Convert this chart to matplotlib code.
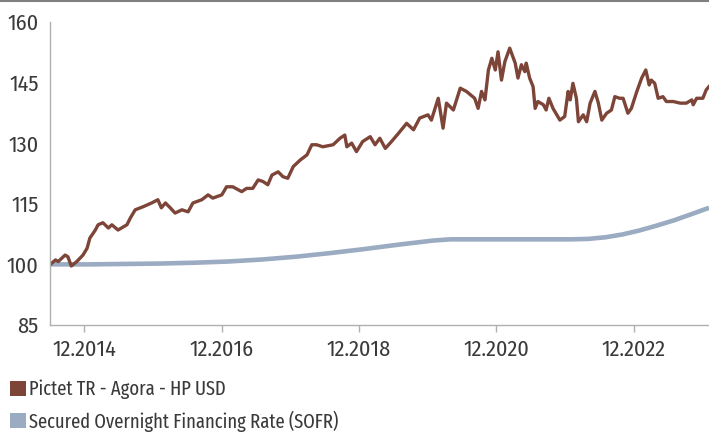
import matplotlib.pyplot as plt
from matplotlib.patches import Patch
from matplotlib.lines import Line2D

plt.rcParams['font.family'] = ['Fira Sans Condensed', 'DejaVu Sans']

# Pictet TR - Agora - HP USD (decimal years, index value)
pictet_t = [2014.42, 2014.50, 2014.54, 2014.64, 2014.68, 2014.73, 2014.81, 2014.90, 2014.96, 2015.00,
            2015.08, 2015.12, 2015.19, 2015.27, 2015.32, 2015.41, 2015.54, 2015.59, 2015.66, 2015.78,
            2015.90, 2015.99, 2016.04, 2016.10, 2016.17, 2016.24, 2016.34, 2016.43, 2016.50, 2016.63,
            2016.72, 2016.79, 2016.92, 2016.99, 2017.08, 2017.21, 2017.28, 2017.37, 2017.45, 2017.52,
            2017.59, 2017.65, 2017.74, 2017.81, 2017.88, 2017.96, 2018.06, 2018.16, 2018.23, 2018.30,
            2018.39, 2018.54, 2018.64, 2018.71, 2018.74, 2018.81, 2018.88, 2018.97, 2019.08, 2019.15,
            2019.22, 2019.30, 2019.39, 2019.49, 2019.61, 2019.71, 2019.80, 2019.92, 2019.97, 2020.07,
            2020.14, 2020.19, 2020.29, 2020.39, 2020.48, 2020.60, 2020.65, 2020.70, 2020.75, 2020.80,
            2020.85, 2020.90, 2020.94, 2020.99, 2021.04, 2021.11, 2021.19, 2021.23, 2021.28, 2021.33,
            2021.35, 2021.40, 2021.45, 2021.48, 2021.52, 2021.60, 2021.64, 2021.68, 2021.74, 2021.84,
            2021.91, 2021.96, 2021.99, 2022.03, 2022.08, 2022.11, 2022.18, 2022.23, 2022.28, 2022.35,
            2022.40, 2022.45, 2022.52, 2022.59, 2022.64, 2022.71, 2022.76, 2022.83, 2022.88, 2022.96,
            2023.03, 2023.09, 2023.14, 2023.17, 2023.22, 2023.27, 2023.34, 2023.39, 2023.49, 2023.59,
            2023.68, 2023.76, 2023.78, 2023.83, 2023.92, 2023.97, 2024.01]
pictet_v = [99.9, 101.1, 100.7, 102.3, 101.9, 99.6, 100.7, 102.3, 104.0, 106.5,
            108.5, 109.8, 110.3, 109.0, 109.8, 108.5, 109.8, 111.5, 113.5, 114.3,
            115.2, 116.0, 114.0, 115.2, 114.0, 112.7, 113.5, 113.0, 115.2, 116.0,
            117.2, 116.4, 117.2, 119.2, 119.2, 118.0, 118.8, 118.8, 120.9, 120.5,
            119.7, 122.1, 122.9, 121.7, 121.3, 124.2, 125.8, 127.1, 129.6, 129.6,
            129.1, 129.6, 131.2, 132.0, 129.1, 130.0, 127.9, 130.4, 131.6, 129.6,
            131.2, 128.7, 130.4, 132.4, 134.9, 133.3, 136.2, 137.0, 135.7, 141.1,
            133.7, 139.9, 138.2, 143.6, 142.8, 141.1, 138.6, 142.8, 140.7, 148.1,
            151.0, 148.1, 152.6, 145.6, 150.2, 153.5, 149.8, 146.1, 149.4, 147.7,
            149.8, 146.1, 144.0, 138.6, 140.3, 139.5, 138.2, 141.1, 138.6, 135.7,
            136.6, 142.8, 140.7, 144.8, 141.1, 135.3, 137.0, 135.3, 139.9, 142.8,
            139.9, 135.7, 137.4, 138.2, 141.5, 141.1, 141.1, 137.4, 138.6, 142.8,
            146.1, 148.1, 144.4, 145.6, 144.8, 141.1, 141.5, 140.3, 140.3, 139.9,
            139.9, 140.7, 139.5, 141.1, 141.1, 143.2, 144.0]

# Secured Overnight Financing Rate (SOFR)
sofr_t = [2014.42, 2015.0, 2015.5, 2016.0, 2016.5, 2017.0, 2017.5, 2018.0, 2018.5, 2019.0,
          2019.5, 2020.0, 2020.25, 2021.0, 2022.0, 2022.25, 2022.5, 2022.75, 2023.0, 2023.25,
          2023.5, 2023.75, 2024.01]
sofr_v = [100.0, 100.0, 100.1, 100.2, 100.4, 100.7, 101.2, 101.9, 102.8, 103.8,
          104.9, 105.9, 106.2, 106.2, 106.2, 106.3, 106.7, 107.4, 108.4, 109.6,
          110.9, 112.4, 114.0]

tick_pos = [2014.917, 2016.917, 2018.917, 2020.917, 2022.917]
tick_labels = ['12.2014', '12.2016', '12.2018', '12.2020', '12.2022']
y_ticks = [85, 100, 115, 130, 145, 160]

brown = '#7d4438'
blue = '#9aabc2'
txt = '#3a3a3a'

fig = plt.figure(figsize=(7.09, 4.38), dpi=100)
ax = fig.add_axes([0.0705, 0.258, 0.9295, 0.692])

ax.plot(sofr_t, sofr_v, color=blue, lw=3.3, solid_capstyle='butt')
ax.plot(pictet_t, pictet_v, color=brown, lw=2.4)

ax.set_xlim(2014.42, 2024.01)
ax.set_ylim(85, 160)
ax.set_yticks(y_ticks)
ax.set_xticks(tick_pos)
ax.set_xticklabels(tick_labels)

for s in ['top', 'right']:
    ax.spines[s].set_visible(False)
for s in ['left', 'bottom']:
    ax.spines[s].set_color('#b0b0b0')
    ax.spines[s].set_linewidth(1.0)
ax.tick_params(axis='y', length=0, pad=8, labelsize=16, labelcolor=txt)
ax.tick_params(axis='x', length=5, width=1, color='#b0b0b0', pad=5, labelsize=16, labelcolor=txt)

# thin rule across the top of the figure
fig.add_artist(Line2D([0, 1], [0.998, 0.998], color='#808080', lw=1.5, transform=fig.transFigure))

handles = [Patch(facecolor=brown, edgecolor='none'), Patch(facecolor=blue, edgecolor='none')]
labels = ['Pictet TR - Agora - HP USD', 'Secured Overnight Financing Rate (SOFR)']
fig.legend(handles, labels, loc='upper left', bbox_to_anchor=(0.014, 0.133), frameon=False,
           prop={'family': ['Fira Sans Extra Condensed', 'DejaVu Sans'], 'size': 14.5},
           handlelength=0.78, handleheight=0.78, handletextpad=0.15,
           labelspacing=0.55, borderaxespad=0, borderpad=0, labelcolor=txt)

fig.savefig('out.png', dpi=100)
